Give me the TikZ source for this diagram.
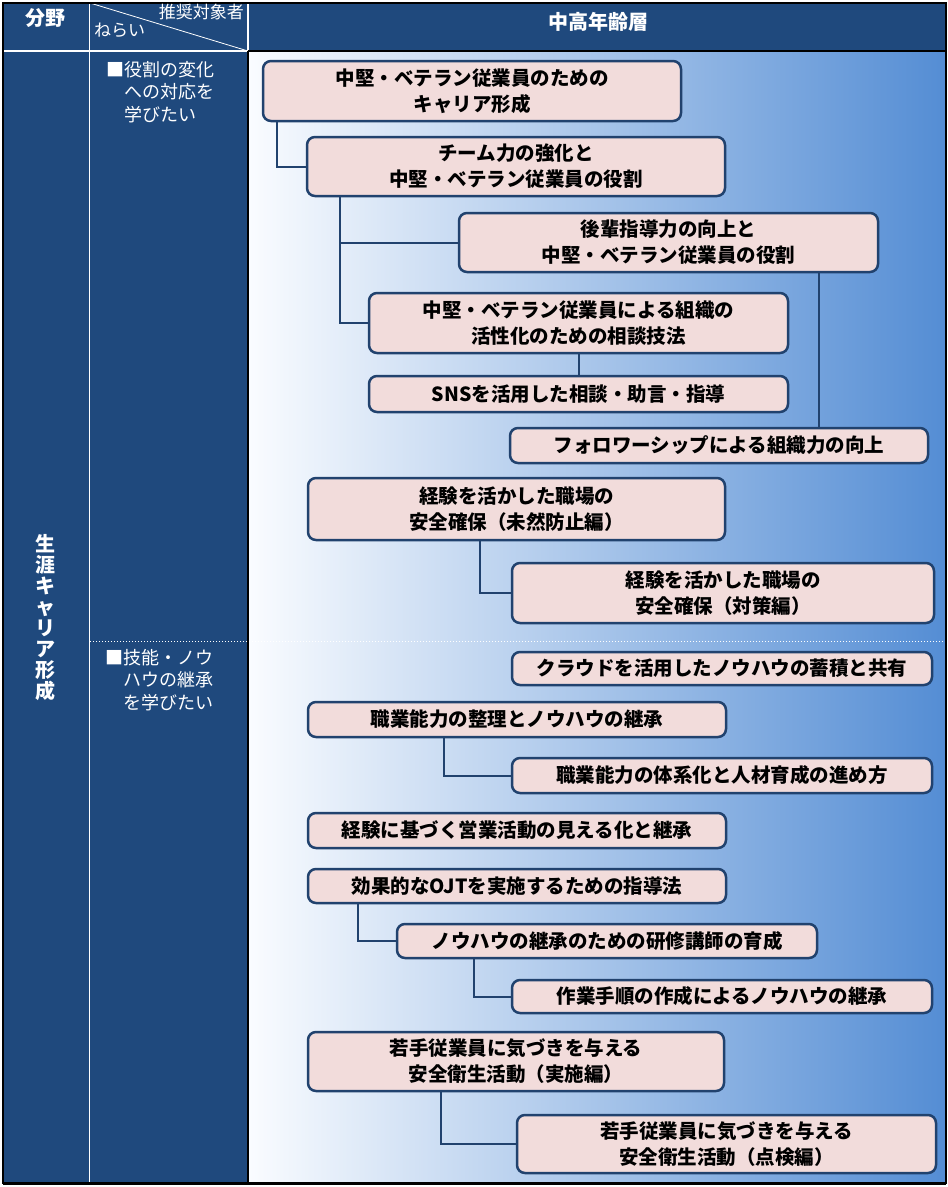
\documentclass[tikz,border=0pt]{standalone}
\usepackage{fontspec}
\newfontfamily\jp{Noto Sans CJK JP}
\definecolor{navy}{RGB}{31,73,125}
\definecolor{boxfill}{RGB}{242,220,219}
\definecolor{boxline}{RGB}{33,66,110}
\definecolor{gradL}{RGB}{250,252,255}
\definecolor{gradR}{RGB}{84,141,212}
\newcommand\mybox[6]{%
  \pgfmathsetmacro\bcx{(#2+#4)/2}\pgfmathsetmacro\bcy{(#3+#5)/2}%
  \pgfmathsetmacro\bw{#4-#2}\pgfmathsetmacro\bh{#5-#3}%
  \node[boxst, minimum width=\bw pt, minimum height=\bh pt] (#1) at (\bcx,\bcy) {#6};}
\tikzset{
  boxst/.style={draw=boxline, fill=boxfill, line width=2.5pt, rounded corners=8pt,
    inner sep=0pt, align=center, font=\jp\bfseries\fontsize{19.5}{26}\selectfont},
  conn/.style={draw=boxline, line width=2pt},
  hdr/.style={text=white, font=\jp\bfseries\fontsize{20}{24}\selectfont, inner sep=0pt},
  hdrsmall/.style={text=white, font=\jp\fontsize{17}{20}\selectfont, inner sep=0pt},
  aimtext/.style={text=white, align=left, inner sep=0pt, font=\jp\fontsize{18}{22.5}\selectfont},
  vtext/.style={text=white, align=center, inner sep=0pt, font=\jp\bfseries\fontsize{20}{21}\selectfont}
}
\begin{document}
\begin{tikzpicture}[x=1pt,y=-1pt]
\useasboundingbox (0,0) rectangle (948,1187);
\fill[white] (0,0) rectangle (948,1187);
% backgrounds
\fill[navy] (3,3) rectangle (248,1183);
\fill[navy] (248,3) rectangle (946,51);
\shade[left color=gradL, right color=gradR] (248,51) rectangle (946,1183);
% grid lines
\draw[white, line width=1.5pt] (89.5,3) -- (89.5,1183);
\draw[white, line width=1.5pt] (248,3) -- (248,51);
\draw[white, line width=1.5pt] (3,51) -- (248,51);
\draw[white, line width=0.8pt] (90,3) -- (248,51);
\draw[white, dotted, line width=1pt] (90,641) -- (946,641);
\draw[black, line width=1.8pt] (248,51) -- (946,51);
\draw[black, line width=1.8pt] (248,51) -- (248,1183);
\draw[black, line width=2pt] (3,3) rectangle (946,1183);
\draw[black, line width=3pt] (3,1183) -- (946,1183);
% header texts
\node[hdr] (fy) at (45,18) {分野};
\node[hdrsmall, anchor=east] (tg) at (244,12) {推奨対象者};
\node[hdrsmall, anchor=west] (nr) at (94,30) {ねらい};
\node[hdr] (age) at (598,22) {中高年齢層};
% left column
\node[vtext] (field) at (45,618) {生\\涯\\キ\\ャ\\リ\\ア\\形\\成};
\node[aimtext] (aim1) at (160,92) {■役割の変化\\\hphantom{■}への対応を\\\hphantom{■}学びたい};
\node[aimtext] (aim2) at (159,680) {■技能・ノウ\\\hphantom{■}ハウの継承\\\hphantom{■}を学びたい};
% boxes
\mybox{b1}{263}{61}{681}{121}{中堅・ベテラン従業員のための\\キャリア形成}
\mybox{b2}{307}{137}{725}{196}{チーム力の強化と\\中堅・ベテラン従業員の役割}
\mybox{b3}{459}{213}{878}{272}{後輩指導力の向上と\\中堅・ベテラン従業員の役割}
\mybox{b4}{369}{293}{788}{353}{中堅・ベテラン従業員による組織の\\活性化のための相談技法}
\mybox{b5}{369}{376}{788}{412}{SNSを活用した相談・助言・指導}
\mybox{b6}{510}{428}{928}{463}{フォロワーシップによる組織力の向上}
\mybox{b7}{308}{478}{725}{540}{経験を活かした職場の\\安全確保（未然防止編）}
\mybox{b8}{512}{563}{934}{623}{経験を活かした職場の\\安全確保（対策編）}
\mybox{b9}{512}{652}{932}{685}{クラウドを活用したノウハウの蓄積と共有}
\mybox{b10}{308}{702}{726}{737}{職業能力の整理とノウハウの継承}
\mybox{b11}{512}{758}{932}{793}{職業能力の体系化と人材育成の進め方}
\mybox{b12}{308}{813}{726}{848}{経験に基づく営業活動の見える化と継承}
\mybox{b13}{308}{869}{726}{903}{効果的なOJTを実施するための指導法}
\mybox{b14}{397}{924}{817}{958}{ノウハウの継承のための研修講師の育成}
\mybox{b15}{512}{980}{932}{1013}{作業手順の作成によるノウハウの継承}
\mybox{b16}{308}{1032}{724}{1091}{若手従業員に気づきを与える\\安全衛生活動（実施編）}
\mybox{b17}{517}{1115}{936}{1173}{若手従業員に気づきを与える\\安全衛生活動（点検編）}
% connectors
\draw[conn] ([xshift=15pt]b1.south west) |- (b2.west);
\draw[conn] ([xshift=34pt]b2.south west) |- (b3.west);
\draw[conn] ([xshift=34pt]b2.south west) |- (b4.west);
\draw[conn] (b4.south) -- (b5.north);
\draw[conn] ([xshift=-60pt]b3.south east) -- ([xshift=-60pt]b3.south east |- b6.north);
\draw[conn] ([xshift=173pt]b7.south west) |- (b8.west);
\draw[conn] ([xshift=137pt]b10.south west) |- (b11.west);
\draw[conn] ([xshift=51pt]b13.south west) |- (b14.west);
\draw[conn] ([xshift=78pt]b14.south west) |- (b15.west);
\draw[conn] ([xshift=134pt]b16.south west) |- (b17.west);
\end{tikzpicture}
\end{document}
